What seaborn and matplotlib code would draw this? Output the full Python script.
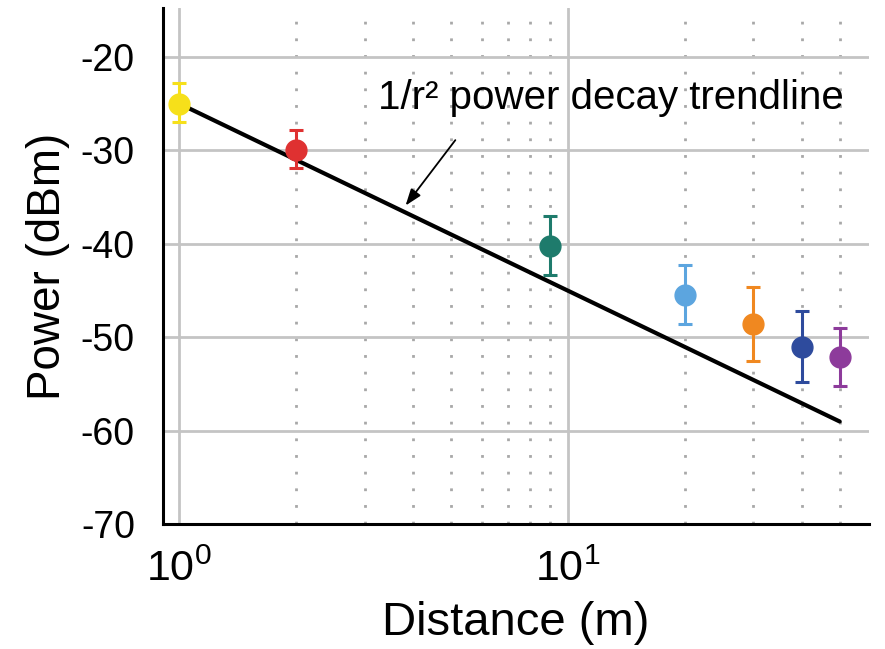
import numpy as np
import pandas as pd
import matplotlib
matplotlib.use("Agg")
import matplotlib.pyplot as plt
import seaborn as sns
from matplotlib.ticker import LogLocator, NullFormatter

# 測量資料 (距離, 平均功率, 誤差上下界)
distance = [1, 2, 9, 20, 30, 40, 50]
power = [-25.0, -30.0, -40.2, -45.5, -48.6, -51.0, -52.1]
err_low = [2.0, 1.9, 3.1, 3.1, 3.9, 3.8, 3.1]
err_high = [2.2, 2.2, 3.2, 3.2, 4.0, 3.8, 3.1]
point_colors = ['#F6E01A', '#DF3131', '#1E7B6C', '#5CA5DF', '#F08820', '#2E4B9D', '#8D3B9B']

# 1/r^2 趨勢線端點
trend_x = [1, 50]
trend_y = [-25.0, -59.0]

sns.set_style("white")
plt.rcParams['font.family'] = ['Liberation Sans', 'DejaVu Sans']
plt.rcParams['mathtext.fontset'] = 'custom'
plt.rcParams['mathtext.rm'] = 'Liberation Sans'
plt.rcParams['mathtext.it'] = 'Liberation Sans:italic'
plt.rcParams['axes.unicode_minus'] = False
plt.rcParams['text.color'] = 'black'
plt.rcParams['axes.labelcolor'] = 'black'
plt.rcParams['xtick.color'] = 'black'
plt.rcParams['ytick.color'] = 'black'

fig = plt.figure(figsize=(8.85, 6.49), dpi=100)
ax = fig.add_axes([0.1838, 0.1921, 0.7982, 0.7951])

ax.set_xscale('log')
ax.set_xlim(0.906, 59.5)
ax.set_ylim(-70, -14.8)

# 格線
ax.xaxis.set_major_locator(LogLocator(base=10))
ax.xaxis.set_minor_locator(LogLocator(base=10, subs=np.arange(2, 10)))
ax.xaxis.set_minor_formatter(NullFormatter())
ax.set_yticks([-70, -60, -50, -40, -30, -20])
ax.grid(True, which='major', axis='both', color='#c4c4c4', lw=2, ls='-')
ax.grid(True, which='minor', axis='x', color='#a8a8a8', lw=2, ls=(0, (1, 5)))
ax.set_axisbelow(True)

# 趨勢線
trend = pd.DataFrame({'x': trend_x, 'y': trend_y})
sns.lineplot(data=trend, x='x', y='y', ax=ax, color='black', lw=3, zorder=3)

# 資料點與誤差線
for d, p, lo, hi, c in zip(distance, power, err_low, err_high, point_colors):
    ax.errorbar(d, p, yerr=[[lo], [hi]], fmt='o', color=c, ms=15,
                elinewidth=2.2, capsize=4.7, capthick=2.2, zorder=4)

ax.text(3.25, -24.4, '1/r² power decay trendline', fontsize=29,
        ha='left', va='center')
ax.annotate('', xy=(3.82, -35.9), xytext=(5.13, -28.9),
            arrowprops=dict(arrowstyle='-|>,head_length=0.5,head_width=0.18',
                            color='black', lw=1.3, mutation_scale=20,
                            shrinkA=0, shrinkB=0))

for s in ['top', 'right']:
    ax.spines[s].set_visible(False)
for s in ['left', 'bottom']:
    ax.spines[s].set_linewidth(2.2)
    ax.spines[s].set_color('black')

ax.tick_params(which='major', direction='in', length=6, width=2, color='black')
ax.tick_params(which='minor', direction='in', length=3, width=2, color='black')
ax.tick_params(axis='y', labelsize=27, pad=20)
ax.tick_params(axis='x', labelsize=31, pad=18)

ax.set_xlabel('Distance (m)', fontsize=34, labelpad=8)
ax.set_ylabel('Power (dBm)', fontsize=33, labelpad=8)

fig.savefig('out.png', dpi=100)
